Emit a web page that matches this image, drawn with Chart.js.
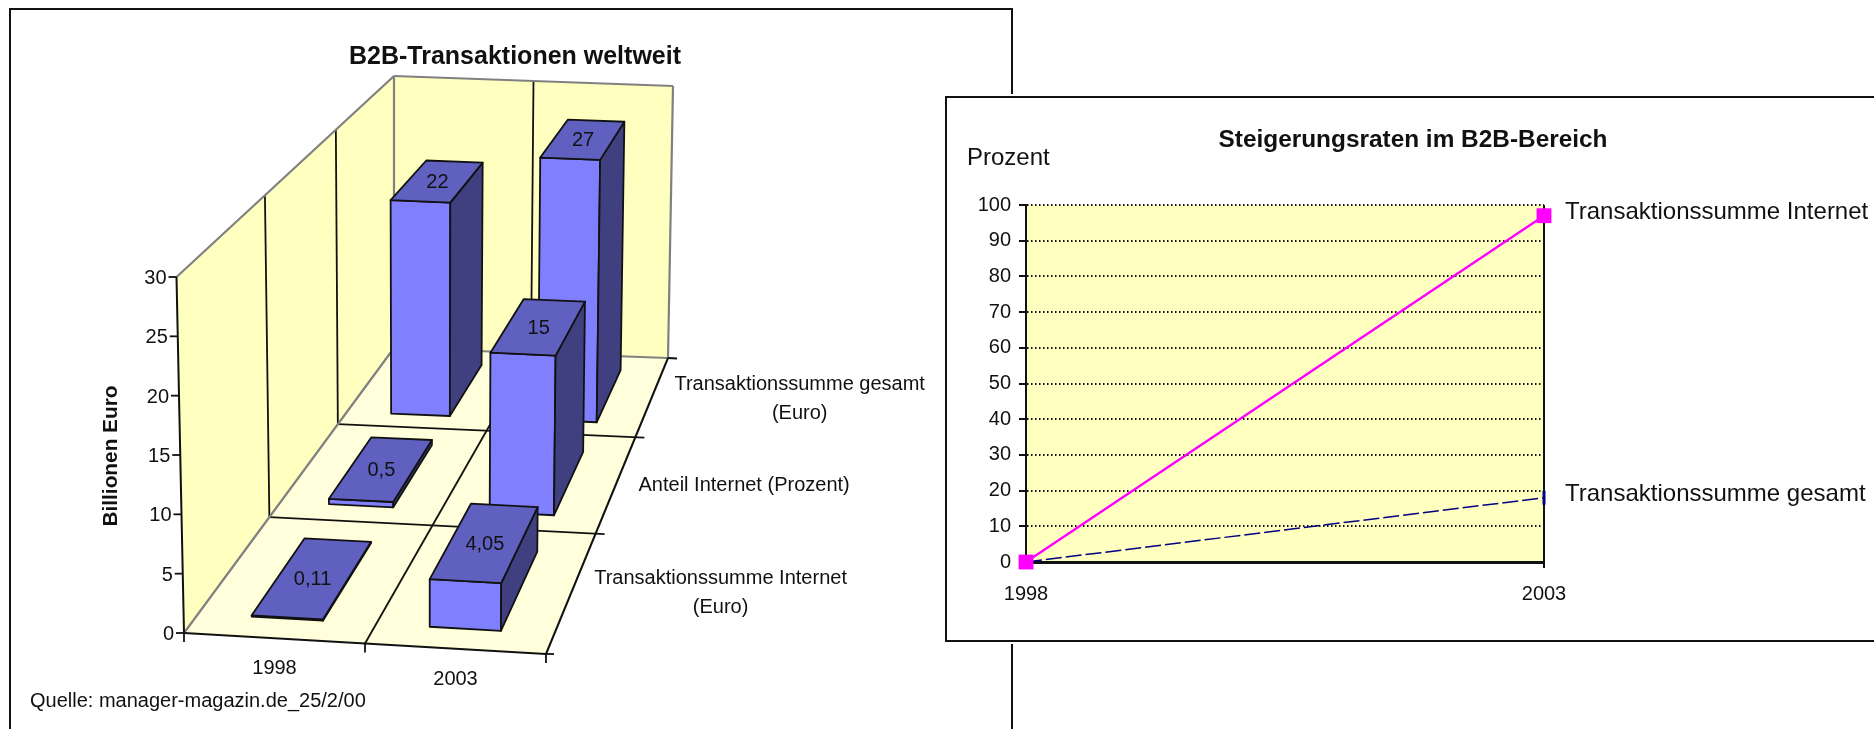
<!DOCTYPE html>
<html>
<head>
<meta charset="utf-8">
<title>B2B-Transaktionen</title>
<style>
html, body {margin:0; padding:0; width:1874px; height:729px; overflow:hidden; background:#fff;}
canvas {position:absolute; left:0; top:0;}
.frame {position:absolute; box-sizing:border-box; border:2px solid #111;}
#frameLeft {left:9px; top:8px; width:1004px; height:800px;}
#frameRight {left:945px; top:96px; width:1000px; height:546px; background:#fff; box-shadow:0 0 0 2px #fff;}
</style>
<script src="https://cdn.jsdelivr.net/npm/chart.js@4/dist/chart.umd.min.js"></script>
</head>
<body>
<canvas id="chart3d" width="1874" height="729" style="width:1874px;height:729px"></canvas>
<div class="frame" id="frameLeft"></div>
<div class="frame" id="frameRight"></div>
<canvas id="chartLine" width="1874" height="729" style="width:1874px;height:729px"></canvas>
<script>
// left chart data
var years = ['1998', '2003'];
var rowNames = [['Transaktionssumme Internet', '(Euro)'], ['Anteil Internet (Prozent)'], ['Transaktionssumme gesamt', '(Euro)']];
var summeInternet = [0.11, 4.05];
var anteilInternet = [0.5, 15];
var summeGesamt = [22, 27];
var euroTicks = [0, 5, 10, 15, 20, 25, 30];

// right chart data
var lineYears = ['1998', '2003'];
var rateInternet = [0, 97];
var rateGesamt = [0, 18];
var percentMax = 100;

Chart.defaults.font.family = '"Liberation Sans", Arial, sans-serif';
Chart.defaults.color = '#111';
Chart.defaults.animation = false;

// corners of the 3D box on the page, f=front b=back, l=left r=right, 0=floor 1=top
var box = {
	fl0: [184, 633], fr0: [546, 654], bl0: [394, 348], br0: [668, 358],
	fl1: [176.5, 277], fr1: [550, 294], bl1: [394, 76], br1: [673, 86]
};
var depthPull = 1.37;

function depth(z) { return depthPull * z / (1 + (depthPull - 1) * z); }
function mix(a, b, t) { return [a[0] + (b[0] - a[0]) * t, a[1] + (b[1] - a[1]) * t]; }

// x,z,h all 0..1 inside the box
function project(x, z, h) {
	var u = depth(z);
	var f0 = mix(box.fl0, box.fr0, x), b0 = mix(box.bl0, box.br0, x);
	var f1 = mix(box.fl1, box.fr1, x), b1 = mix(box.bl1, box.br1, x);
	return mix(mix(f0, b0, u), mix(f1, b1, u), h);
}

function poly(ctx, pts, fill, stroke, width) {
	ctx.beginPath();
	pts.forEach(function (p, i) { if (i == 0) ctx.moveTo(p[0], p[1]); else ctx.lineTo(p[0], p[1]); });
	ctx.closePath();
	if (fill) { ctx.fillStyle = fill; ctx.fill(); }
	if (stroke) { ctx.strokeStyle = stroke; ctx.lineWidth = width; ctx.lineJoin = 'round'; ctx.stroke(); }
}

function line(ctx, a, b, color, width) {
	ctx.beginPath();
	ctx.moveTo(a[0], a[1]);
	ctx.lineTo(b[0], b[1]);
	ctx.strokeStyle = color;
	ctx.lineWidth = width;
	ctx.stroke();
}

function text(ctx, str, x, y, font, align) {
	ctx.font = font;
	ctx.fillStyle = '#111';
	ctx.textAlign = align || 'center';
	ctx.textBaseline = 'middle';
	ctx.fillText(str, x, y);
}

function drawBox(chart, ctx) {
	var WALL = '#FFFFC0', FLOOR = '#FFFFDC', GRAY = '#808080';
	poly(ctx, [project(0, 1, 0), project(1, 1, 0), project(1, 1, 1), project(0, 1, 1)], WALL);
	poly(ctx, [project(0, 0, 0), project(0, 1, 0), project(0, 1, 1), project(0, 0, 1)], WALL);
	poly(ctx, [project(0, 0, 0), project(1, 0, 0), project(1, 1, 0), project(0, 1, 0)], FLOOR);

	var nx = years.length, nz = rowNames.length, i;
	for (i = 1; i < nx; i++) {
		line(ctx, project(i / nx, 1, 0), project(i / nx, 1, 1), '#111', 1.8);
		line(ctx, project(i / nx, 0, 0), project(i / nx, 1, 0), '#111', 1.8);
	}
	for (i = 1; i < nz; i++) {
		line(ctx, project(0, i / nz, 0), project(0, i / nz, 1), '#111', 1.8);
		var end = project(1, i / nz, 0);
		line(ctx, project(0, i / nz, 0), [end[0] + 9, end[1] + 0.5], '#111', 1.8);
	}
	// gray edges of the walls
	line(ctx, project(0, 0, 0), project(0, 1, 0), GRAY, 2.2);
	line(ctx, project(0, 0, 1), project(0, 1, 1), GRAY, 2.2);
	line(ctx, project(0, 1, 1), project(1, 1, 1), GRAY, 2.2);
	line(ctx, project(0, 1, 0), project(0, 1, 1), GRAY, 2.2);
	line(ctx, project(1, 1, 0), project(1, 1, 1), GRAY, 2.2);
	line(ctx, project(0, 1, 0), project(1, 1, 0), GRAY, 2.2);
	// black edges
	line(ctx, project(0, 0, 0), project(1, 0, 0), '#111', 2);
	var backEnd = project(1, 1, 0);
	line(ctx, project(1, 0, 0), backEnd, '#111', 2);
	line(ctx, backEnd, [backEnd[0] + 9, backEnd[1] + 0.5], '#111', 1.8);
	line(ctx, project(0, 0, 0), project(0, 0, 1), '#111', 2);
	// ticks under the front edge
	for (i = 0; i <= nx; i++) {
		var p = project(i / nx, 0, 0);
		line(ctx, [p[0], p[1] - 1], [p[0], p[1] + 9], '#111', 1.8);
		if (i == nx) line(ctx, p, [p[0] + 8, p[1]], '#111', 1.8);
	}
}

function drawBars(chart, ctx) {
	var xs = chart.scales.x, ys = chart.scales.y, zs = chart.scales.z;
	var halfX = 0.1, halfZ = 0.11;
	var zero = ys.getPixelForValue(0);
	var full = zero - ys.getPixelForValue(ys.max);
	for (var d = chart.data.datasets.length - 1; d >= 0; d--) {
		var set = chart.data.datasets[d];
		var zc = (zs.getPixelForValue(d) - zs.left) / zs.width - 0.006;
		set.data.forEach(function (v, i) {
			var xc = (xs.getPixelForValue(i) - xs.left) / xs.width;
			var h = (zero - ys.getPixelForValue(v)) / full;
			var x0 = xc - halfX, x1 = xc + halfX, z0 = zc - halfZ, z1 = zc + halfZ;
			var a = project(x0, z0, 0), b = project(x1, z0, 0), c = project(x1, z1, 0);
			var a1 = project(x0, z0, h), b1 = project(x1, z0, h), c1 = project(x1, z1, h), e1 = project(x0, z1, h);
			poly(ctx, [a, b, b1, a1], '#8080FF', '#111', 1.8);
			poly(ctx, [b, c, c1, b1], '#404080', '#111', 1.8);
			poly(ctx, [a1, b1, c1, e1], '#6060C0', '#111', 1.8);
			var mid = [(a1[0] + b1[0] + c1[0] + e1[0]) / 4, (a1[1] + b1[1] + c1[1] + e1[1]) / 4];
			text(ctx, String(v).replace('.', ','), mid[0], mid[1] + 1, '20px "Liberation Sans"');
		});
	}
}

function drawLabels3d(chart, ctx) {
	var font = '20px "Liberation Sans"';
	var ys = chart.scales.y, xs = chart.scales.x, zs = chart.scales.z;
	var zero = ys.getPixelForValue(0), full = zero - ys.getPixelForValue(ys.max);

	text(ctx, 'B2B-Transaktionen weltweit', 515, 57, 'bold 25px "Liberation Sans"');

	ys.ticks.forEach(function (t) {
		var p = project(0, 0, (zero - ys.getPixelForValue(t.value)) / full);
		line(ctx, [p[0] - 8, p[1]], p, '#111', 1.8);
		text(ctx, t.label, p[0] - 10, p[1] + 1.5, font, 'right');
	});

	years.forEach(function (y, i) {
		var p = project((xs.getPixelForValue(i) - xs.left) / xs.width, 0, 0);
		text(ctx, y, p[0], p[1] + 30 + i, font);
	});

	rowNames.forEach(function (lines, i) {
		var p = project(1, (zs.getPixelForValue(i) - zs.left) / zs.width, 0);
		ctx.font = font;
		var w = 0;
		lines.forEach(function (l) { w = Math.max(w, ctx.measureText(l).width); });
		lines.forEach(function (l, k) {
			text(ctx, l, p[0] + 22 + w / 2, p[1] + (k - (lines.length - 1) / 2) * 29 + 3, font);
		});
	});

	text(ctx, 'Quelle: manager-magazin.de_25/2/00', 30, 701, font, 'left');

	ctx.save();
	ctx.translate(111, 456);
	ctx.rotate(-Math.PI / 2);
	text(ctx, 'Billionen Euro', 0, 0, 'bold 20.8px "Liberation Sans"');
	ctx.restore();
}

var box3d = {
	id: 'box3d',
	beforeDatasetsDraw: function (chart) {
		var ctx = chart.ctx;
		ctx.save();
		drawBox(chart, ctx);
		drawBars(chart, ctx);
		drawLabels3d(chart, ctx);
		ctx.restore();
		return false; // native flat bars not wanted
	}
};

new Chart('chart3d', {
	type: 'bar',
	plugins: [box3d],
	data: {
		labels: years,
		datasets: [
			{label: rowNames[0].join(' '), data: summeInternet},
			{label: rowNames[1].join(' '), data: anteilInternet},
			{label: rowNames[2].join(' '), data: summeGesamt}
		]
	},
	options: {
		responsive: false,
		devicePixelRatio: 1,
		layout: {padding: {left: 184, right: 1874 - 546, top: 277, bottom: 729 - 633}},
		plugins: {legend: {display: false}, tooltip: {enabled: false}},
		scales: {
			x: {display: false},
			z: {type: 'category', axis: 'x', labels: rowNames.map(function (r) { return r.join(' '); }), offset: true, display: false},
			y: {display: false, min: 0, max: 30, afterBuildTicks: function (s) { s.ticks = euroTicks.map(function (v) { return {value: v, label: String(v)}; }); }}
		}
	}
});

var lineDecor = {
	id: 'lineDecor',
	beforeDatasetsDraw: function (chart) {
		var ctx = chart.ctx, a = chart.chartArea;
		ctx.save();
		ctx.globalCompositeOperation = 'destination-over';
		ctx.fillStyle = '#FFFFC0';
		ctx.fillRect(a.left, a.top, a.width, a.height);
		ctx.restore();
	},
	afterDatasetsDraw: function (chart) {
		var ctx = chart.ctx, font = '24px "Liberation Sans"';
		text(ctx, 'Steigerungsraten im B2B-Bereich', 1413, 140, 'bold 24.4px "Liberation Sans"');
		text(ctx, 'Prozent', 967, 158, font, 'left');
		chart.data.datasets.forEach(function (set, i) {
			var p = chart.getDatasetMeta(i).data[1];
			text(ctx, set.label, p.x + 21, p.y - 3, font, 'left');
		});
	}
};

new Chart('chartLine', {
	type: 'line',
	plugins: [lineDecor],
	data: {
		labels: lineYears,
		datasets: [
			{
				label: 'Transaktionssumme Internet', data: rateInternet, clip: false,
				borderColor: '#FF00FF', borderWidth: 2.4, backgroundColor: '#FF00FF',
				pointStyle: 'rect', pointRadius: 10.5, pointBorderWidth: 0, tension: 0
			},
			{
				label: 'Transaktionssumme gesamt', data: rateGesamt, clip: false,
				borderColor: '#000080', borderWidth: 1.5, borderDash: [16, 4],
				pointStyle: 'line', pointRotation: 90, pointRadius: [0, 7], pointBorderWidth: 3, pointBorderColor: '#000080', tension: 0
			}
		]
	},
	options: {
		responsive: false,
		devicePixelRatio: 1,
		layout: {padding: {left: 966, right: 1874 - 1544, top: 205, bottom: 100}},
		plugins: {legend: {display: false}, tooltip: {enabled: false}},
		scales: {
			x: {
				offset: false,
				afterFit: function (s) { s.height = 729 - 562 - 100; },
				border: {color: '#111', width: 3},
				grid: {color: '#111', lineWidth: 2, tickLength: 6},
				ticks: {font: {size: 20}, color: '#111', padding: 14, maxRotation: 0}
			},
			y: {
				min: 0, max: percentMax,
				afterFit: function (s) { s.width = 60; },
				border: {color: '#111', width: 2, dash: [1.5, 2.5]},
				grid: {color: '#111', lineWidth: 2, tickLength: 7, tickBorderDash: [], tickColor: '#111'},
				ticks: {stepSize: 10, font: {size: 20}, color: '#111', padding: 8}
			}
		}
	}
});
</script>
</body>
</html>
